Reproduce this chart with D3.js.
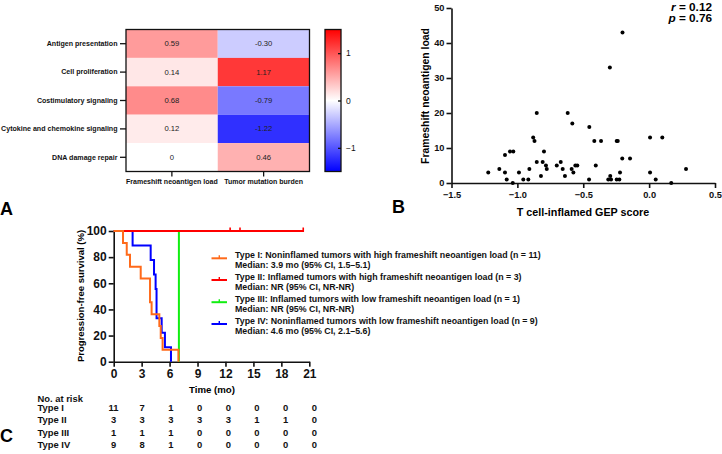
<!DOCTYPE html>
<html><head><meta charset="utf-8">
<script src="https://cdn.jsdelivr.net/npm/d3@7"></script>
<style>
html,body{margin:0;padding:0;background:#fff;}
svg{display:block;font-family:"Liberation Sans",Arial,sans-serif;}
</style></head>
<body>
<svg id="chart" width="722" height="454"></svg>
<script>
// ---------- DATA ----------
const hmRows = ["Antigen presentation","Cell proliferation","Costimulatory signaling","Cytokine and chemokine signaling","DNA damage repair"];
const hmCols = ["Frameshift neoantigen load","Tumor mutation burden"];
const hmFNL = [0.59, 0.14, 0.68, 0.12, 0];
const hmTMB = [-0.30, 1.17, -0.79, -1.22, 0.46];
const hmFNLLabels = ["0.59","0.14","0.68","0.12","0"];
const hmTMBLabels = ["-0.30","1.17","-0.79","-1.22","0.46"];
const cbTicks = [-1, 0, 1];

const gepScore = [-1.221,-1.137,-1.094,-1.094,-1.081,-1.056,-1.031,-1.035,-0.988,-0.955,-0.917,-0.909,-0.880,-0.870,-0.853,-0.853,-0.821,-0.808,-0.798,-0.783,-0.777,-0.701,-0.671,-0.656,-0.639,-0.618,-0.588,-0.583,-0.575,-0.560,-0.545,-0.456,-0.454,-0.416,-0.405,-0.365,-0.310,-0.298,-0.295,-0.289,-0.246,-0.238,-0.246,-0.226,-0.221,-0.204,-0.202,-0.145,0.007,0.007,0.050,0.100,0.168,0.280];
const fnLoad   = [3,4,8,3,1,9,9,0,3,1,1,4,13,12,20,6,2,6,9,5,4,5,6,4,2,20,4,17,3,5,5,1,16,12,5,12,1,33,2,1,12,12,1,1,3,7,43,7,13,3,1,13,0,4];
const scXTicks = [-1.5,-1.0,-0.5,0.0,0.5];
const scYTicks = [0,10,20,30,40,50];

const kmNames = ["Type I","Type II","Type III","Type IV"];
const kmTimes = [
  [0,1.0,1.4,1.75,2.9,3.9,4.07,4.9,5.05,5.25,6.95],
  [0,20.35],
  [0,7.0,7.0],
  [0,2.03,3.97,4.33,4.5,4.6,5.15,5.5,6.15]
];
const kmSurv = [
  [100,90.9,81.8,72.7,63.6,45.5,36.4,27.3,18.2,9.1,0],
  [100,100],
  [100,100,0],
  [100,88.9,77.8,66.7,55.6,33.3,22.2,11.1,0]
];
const kmCensor = [[],[12.5,13.56,20.35],[],[]];
const kmColors = ["#ff6a1a","#ff0000","#11ee11","#0000ff"];
const kmLegendTitles = [
  "Type I: Noninflamed tumors with high frameshift neoantigen load (n = 11)",
  "Type II: Inflamed tumors with high frameshift neoantigen load (n = 3)",
  "Type III: Inflamed tumors with low frameshift neoantigen load (n = 1)",
  "Type IV: Noninflamed tumors with low frameshift neoantigen load (n = 9)"
];
const kmLegendMedians = [
  "Median: 3.9 mo (95% CI, 1.5–5.1)",
  "Median: NR (95% CI, NR-NR)",
  "Median: NR (95% CI, NR-NR)",
  "Median: 4.6 mo (95% CI, 2.1–5.6)"
];
const kmXTicks = [0,3,6,9,12,15,18,21];
const kmYTicks = [0,20,40,60,80,100];
const riskTimes = [0,3,6,9,12,15,18,21];
const riskTypeI   = [11,7,1,0,0,0,0,0];
const riskTypeII  = [3,3,3,3,3,1,1,0];
const riskTypeIII = [1,1,1,0,0,0,0,0];
const riskTypeIV  = [9,8,1,0,0,0,0,0];

// ---------- HELPERS ----------
const svg = d3.select("#chart");
const BOLD = 700;
const FONT = "Liberation Sans, Arial, sans-serif";
// size a group of texts so that the key text reaches the target width
function fitSize(sel, keyNode, target) {
  const w = keyNode.getComputedTextLength();
  const fs = parseFloat(d3.select(keyNode).attr("font-size"));
  const nfs = fs * target / w;
  sel.attr("font-size", nfs);
  return nfs;
}

// ===== Panel A: heatmap =====
const hmX = d3.scaleBand().domain(hmCols).range([126, 309.5]);
const hmY = d3.scaleBand().domain(hmRows).range([29.5, 171.5]);
const color = d3.scaleLinear().domain([-1.5, 0, 1.5]).range(["#0000ff", "#ffffff", "#ff0000"]).clamp(true);
const hmCells = [];
hmRows.forEach((r, i) => {
  hmCells.push({row: r, col: hmCols[0], v: hmFNL[i], lab: hmFNLLabels[i]});
  hmCells.push({row: r, col: hmCols[1], v: hmTMB[i], lab: hmTMBLabels[i]});
});
const gA = svg.append("g");
gA.selectAll("rect.cell").data(hmCells).join("rect")
  .attr("x", d => hmX(d.col)).attr("y", d => hmY(d.row))
  .attr("width", hmX.bandwidth()).attr("height", hmY.bandwidth())
  .attr("fill", d => color(d.v));
const valTexts = gA.selectAll("text.val").data(hmCells).join("text")
  .attr("x", d => hmX(d.col) + hmX.bandwidth() / 2)
  .attr("y", d => hmY(d.row) + hmY.bandwidth() / 2)
  .attr("text-anchor", "middle").attr("dominant-baseline", "central")
  .attr("font-family", FONT).attr("font-size", 8).attr("fill", "#222").text(d => d.lab);
fitSize(valTexts, valTexts.nodes()[1], 17.5);
gA.append("rect").attr("x", 126).attr("y", 29.5).attr("width", 183.5).attr("height", 142)
  .attr("fill", "none").attr("stroke", "#111").attr("stroke-width", 1.3);
const axL = gA.append("g").attr("transform", "translate(126,0)")
  .call(d3.axisLeft(hmY).tickSize(6).tickSizeOuter(0));
axL.select(".domain").remove();
axL.selectAll(".tick line").attr("stroke", "#111").attr("stroke-width", 1.3);
const rowLab = axL.selectAll(".tick text").attr("font-size", 8).attr("font-weight", BOLD).attr("fill", "#111")
  .attr("font-family", FONT).attr("x", -8.5);
fitSize(rowLab, rowLab.nodes()[3], 116.5);
const axB = gA.append("g").attr("transform", "translate(0,171.5)")
  .call(d3.axisBottom(hmX).tickSize(5).tickSizeOuter(0));
axB.select(".domain").remove();
axB.selectAll(".tick line").attr("stroke", "#111").attr("stroke-width", 1.3);
const colLab = axB.selectAll(".tick text").attr("font-size", 8).attr("font-weight", BOLD).attr("fill", "#111")
  .attr("font-family", FONT).attr("y", 7.5);
fitSize(colLab, colLab.nodes()[0], 92);

// colorbar
const cbY = d3.scaleLinear().domain([-1.5, 1.5]).range([171.5, 29.5]);
const defs = svg.append("defs");
const grad = defs.append("linearGradient").attr("id", "cbgrad")
  .attr("x1", 0).attr("y1", 1).attr("x2", 0).attr("y2", 0);
[-1.5, 0, 1.5].forEach((v, i) => grad.append("stop").attr("offset", i / 2).attr("stop-color", color(v)));
gA.append("rect").attr("x", 325).attr("y", 29.5).attr("width", 16).attr("height", 142)
  .attr("fill", "url(#cbgrad)").attr("stroke", "#111").attr("stroke-width", 1.3);
const axCB = gA.append("g").attr("transform", "translate(341,0)")
  .call(d3.axisRight(cbY).tickValues(cbTicks).tickFormat(d3.format("d")).tickSize(-3).tickSizeOuter(0));
axCB.select(".domain").remove();
axCB.selectAll(".tick line").attr("stroke", "#111").attr("stroke-width", 1.3);
axCB.selectAll(".tick text").attr("font-size", 8.5).attr("fill", "#111").attr("x", 5)
  .attr("font-family", FONT);

svg.append("text").attr("x", 0).attr("y", 215).attr("font-family", FONT).attr("font-size", 18).attr("font-weight", BOLD).text("A");

// ===== Panel B: scatter =====
const sx = d3.scaleLinear().domain([-1.5, 0.5]).range([451.5, 715]);
const sy = d3.scaleLinear().domain([0, 50]).range([183, 8]);
const gB = svg.append("g");
function styleAxis(g) {
  g.select(".domain").attr("stroke", "#111").attr("stroke-width", 1.6);
  g.selectAll(".tick line").attr("stroke", "#111").attr("stroke-width", 1.6);
  return g.selectAll(".tick text").attr("font-size", 8).attr("font-weight", BOLD).attr("fill", "#111")
    .attr("font-family", FONT);
}
const bx = gB.append("g").attr("transform", "translate(0,183)")
  .call(d3.axisBottom(sx).tickValues(scXTicks).tickFormat(d3.format(".1f")).tickSize(5).tickSizeOuter(0));
const bxT = styleAxis(bx).attr("y", 8);
const scTickFs = fitSize(bxT, bxT.nodes()[0], 18.3);
const by = gB.append("g").attr("transform", "translate(451.5,0)")
  .call(d3.axisLeft(sy).tickValues(scYTicks).tickSize(5).tickSizeOuter(0));
styleAxis(by).attr("x", -7).attr("font-size", scTickFs);
gB.selectAll("circle.pt").data(gepScore.map((g, i) => ({x: g, y: fnLoad[i]}))).join("circle")
  .attr("cx", d => sx(d.x)).attr("cy", d => sy(d.y)).attr("r", 2).attr("fill", "#000");
const sxT = gB.append("text").attr("x", 583).attr("y", 215.5).attr("text-anchor", "middle")
  .attr("font-family", FONT).attr("font-size", 9).attr("font-weight", BOLD).text("T cell-inflamed GEP score");
fitSize(sxT, sxT.node(), 132.5);
const syT = gB.append("text").attr("transform", "translate(429,96) rotate(-90)").attr("text-anchor", "middle")
  .attr("font-family", FONT).attr("font-size", 9).attr("font-weight", BOLD).text("Frameshift neoantigen load");
fitSize(syT, syT.node(), 136);
const rTxt = gB.append("text").attr("x", 712).attr("y", 10.5).attr("text-anchor", "end")
  .attr("font-family", FONT).attr("font-size", 8.3).attr("font-weight", BOLD);
rTxt.append("tspan").attr("font-style", "italic").text("r");
rTxt.append("tspan").text(" = 0.12");
const pTxt = gB.append("text").attr("x", 712).attr("y", 22).attr("text-anchor", "end")
  .attr("font-family", FONT).attr("font-size", 8.3).attr("font-weight", BOLD);
pTxt.append("tspan").attr("font-style", "italic").text("p");
pTxt.append("tspan").text(" = 0.76");
fitSize(d3.selectAll([rTxt.node(), pTxt.node()]), rTxt.node(), 41);
svg.append("text").attr("x", 392).attr("y", 213).attr("font-family", FONT).attr("font-size", 18).attr("font-weight", BOLD).text("B");

// ===== Panel C: KM =====
const kx = d3.scaleLinear().domain([0, 21]).range([113.7, 309.3]);
const ky = d3.scaleLinear().domain([0, 100]).range([361.7, 231]);
const gC = svg.append("g");
const cx = gC.append("g").attr("transform", "translate(0,361.7)")
  .call(d3.axisBottom(kx).tickValues(kmXTicks).tickSize(5).tickSizeOuter(0));
const cxT = styleAxis(cx).attr("y", 8);
const cy = gC.append("g").attr("transform", "translate(113.7,0)")
  .call(d3.axisLeft(ky).tickValues(kmYTicks).tickSize(5).tickSizeOuter(0));
const cyT = styleAxis(cy).attr("x", -7);
const kmTickFs = fitSize(cyT, cyT.nodes()[5], 20);
cxT.attr("font-size", kmTickFs);
const kxT = gC.append("text").attr("x", 212).attr("y", 392.5).attr("text-anchor", "middle")
  .attr("font-family", FONT).attr("font-size", 9).attr("font-weight", BOLD).text("Time (mo)");
fitSize(kxT, kxT.node(), 46);
const kyT = gC.append("text").attr("transform", "translate(83.5,296) rotate(-90)").attr("text-anchor", "middle")
  .attr("font-family", FONT).attr("font-size", 8.4).attr("font-weight", BOLD).text("Progression-free survival (%)");
fitSize(kyT, kyT.node(), 132);

const line = d3.line().x(d => kx(d[0])).y(d => ky(d[1])).curve(d3.curveStepAfter);
const drawOrder = [2, 3, 1, 0];
drawOrder.forEach(k => {
  const pts = kmTimes[k].map((t, i) => [t, kmSurv[k][i]]);
  gC.append("path").datum(pts).attr("d", line).attr("fill", "none")
    .attr("stroke", kmColors[k]).attr("stroke-width", 2);
  gC.selectAll(null).data(kmCensor[k]).join("line")
    .attr("x1", d => kx(d)).attr("x2", d => kx(d))
    .attr("y1", ky(100) - 3.5).attr("y2", ky(100) + 1)
    .attr("stroke", kmColors[k]).attr("stroke-width", 1.6);
});

// legend
const legTitleY = [255, 276.8, 298.5, 320.5];
const legMarkY = [258.3, 280, 302.2, 324];
const legTexts = [];
kmNames.forEach((n, k) => {
  const gl = gC.append("g");
  gl.append("line").attr("x1", 211.5).attr("x2", 227).attr("y1", legMarkY[k]).attr("y2", legMarkY[k])
    .attr("stroke", kmColors[k]).attr("stroke-width", 2);
  gl.append("line").attr("x1", 219.3).attr("x2", 219.3).attr("y1", legMarkY[k] - 3).attr("y2", legMarkY[k])
    .attr("stroke", kmColors[k]).attr("stroke-width", 1.4);
  legTexts.push(gl.append("text").attr("x", 235).attr("y", legTitleY[k]).attr("dominant-baseline", "central")
    .attr("font-family", FONT).attr("font-size", 8).attr("font-weight", BOLD).attr("fill", "#111").text(kmLegendTitles[k]).node());
  legTexts.push(gl.append("text").attr("x", 235).attr("y", legTitleY[k] + 10.3).attr("dominant-baseline", "central")
    .attr("font-family", FONT).attr("font-size", 8).attr("font-weight", BOLD).attr("fill", "#111").text(kmLegendMedians[k]).node());
});
fitSize(d3.selectAll(legTexts), legTexts[2], 287);

// risk table
const rx = d3.scaleLinear().domain([0, 21]).range([113.5, 314.3]);
const riskRows = [riskTypeI, riskTypeII, riskTypeIII, riskTypeIV];
const riskY = [407.5, 419.7, 432, 444];
const riskTexts = [];
riskTexts.push(gC.append("text").attr("x", 37.5).attr("y", 398).attr("dominant-baseline", "central")
  .attr("font-family", FONT).attr("font-size", 8.5).attr("font-weight", BOLD).attr("fill", "#111").text("No. at risk").node());
riskRows.forEach((row, k) => {
  riskTexts.push(gC.append("text").attr("x", 37.5).attr("y", riskY[k]).attr("dominant-baseline", "central")
    .attr("font-family", FONT).attr("font-size", 8.5).attr("font-weight", BOLD).attr("fill", "#111").text(kmNames[k]).node());
  gC.append("g").selectAll("text").data(row).join("text")
    .attr("x", (d, i) => rx(riskTimes[i])).attr("y", riskY[k])
    .attr("text-anchor", "middle").attr("dominant-baseline", "central")
    .attr("font-family", FONT).attr("font-size", 8.5).attr("font-weight", BOLD).attr("fill", "#111")
    .text(d => d)
    .each(function() { riskTexts.push(this); });
});
fitSize(d3.selectAll(riskTexts), riskTexts[0], 45.5);
svg.append("text").attr("x", 0).attr("y", 442).attr("font-family", FONT).attr("font-size", 18).attr("font-weight", BOLD).text("C");
</script>
</body></html>
